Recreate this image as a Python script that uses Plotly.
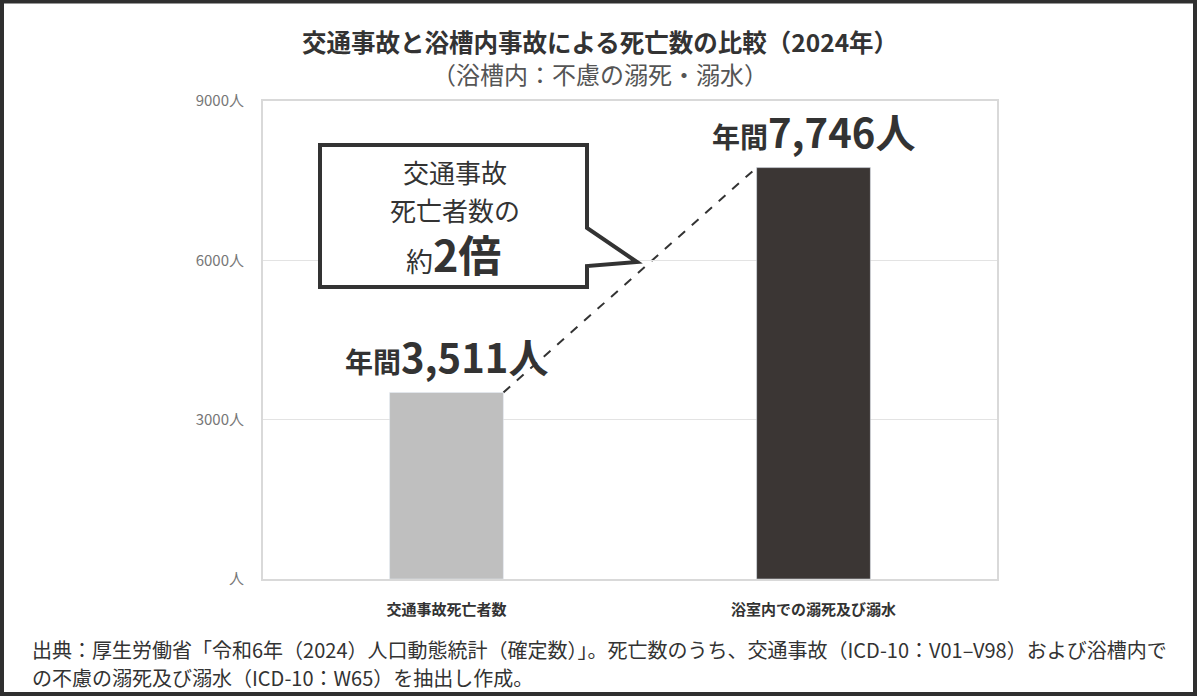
import plotly.graph_objects as go

categories = ["交通事故死亡者数", "浴室内での溺死及び溺水"]
values = [3511, 7746]
bar_colors = ["#bfbfbf", "#3b3634"]
tick_vals = [0, 3000, 6000, 9000]
tick_text = ["人", "3000人", "6000人", "9000人"]
bar_labels = ["3,511人", "7,746人"]

FONT = "Noto Sans CJK JP"
W, H = 1200, 699
L, R, T, B = 263, 997, 101, 579
BAR_W = 0.31


def px(x):
    return (x - L) / (R - L)


def py(y):
    return (B - y) / (B - T)


fig = go.Figure()
fig.add_trace(go.Bar(x=categories, y=values, marker_color=bar_colors,
                     width=BAR_W, hoverinfo="skip"))

annotations = []
# title
annotations.append(dict(xref="paper", yref="paper", x=px(600), y=py(41),
                        text="<b>交通事故と浴槽内事故による死亡数の比較（2024年）</b>",
                        showarrow=False, font=dict(size=24.5, color="#333333", family=FONT),
                        xanchor="center", yanchor="middle"))
annotations.append(dict(xref="paper", yref="paper", x=px(600), y=py(74),
                        text="（浴槽内：不慮の溺死・溺水）",
                        showarrow=False, font=dict(size=24, color="#555555", family=FONT),
                        xanchor="center", yanchor="middle"))
# bar labels
for cat, v, lab in zip(categories, values, bar_labels):
    annotations.append(dict(x=cat, y=v, xref="x", yref="y",
                            text="<b>年間<span style='font-size:40px'>" + lab + "</span></b>",
                            showarrow=False, yanchor="bottom", yshift=6,
                            font=dict(size=28, color="#333333", family=FONT)))
# callout text
annotations.append(dict(xref="paper", yref="paper", x=px(455), y=py(171),
                        text="交通事故", showarrow=False,
                        font=dict(size=26, color="#333333", family=FONT),
                        xanchor="center", yanchor="middle"))
annotations.append(dict(xref="paper", yref="paper", x=px(455), y=py(209),
                        text="死亡者数の", showarrow=False,
                        font=dict(size=26, color="#333333", family=FONT),
                        xanchor="center", yanchor="middle"))
annotations.append(dict(xref="paper", yref="paper", x=px(453), y=py(253),
                        text="約<b><span style='font-size:43px'>2倍</span></b>", showarrow=False,
                        font=dict(size=27, color="#333333", family=FONT),
                        xanchor="center", yanchor="middle"))
# footnote
annotations.append(dict(xref="paper", yref="paper", x=px(30), y=py(649),
                        text="出典：厚生労働省「令和6年（2024）人口動態統計（確定数）」。死亡数のうち、交通事故（ICD-10：V01–V98）および浴槽内で",
                        showarrow=False, font=dict(size=20, color="#333333", family=FONT),
                        xanchor="left", yanchor="middle"))
annotations.append(dict(xref="paper", yref="paper", x=px(30), y=py(677),
                        text="の不慮の溺死及び溺水（ICD-10：W65）を抽出し作成。",
                        showarrow=False, font=dict(size=20, color="#333333", family=FONT),
                        xanchor="left", yanchor="middle"))

# callout path
pts = [(320, 145), (587, 145), (587, 228), (637, 262), (587, 266), (587, 287), (320, 287)]
path = "M " + " L ".join(f"{px(a):.5f},{py(b):.5f}" for a, b in pts) + " Z"

shapes = [
    dict(type="path", xref="paper", yref="paper", path=path,
         line=dict(color="#333333", width=4), fillcolor="white", layer="above"),
    dict(type="line", xref="x", yref="y", x0=0 + BAR_W / 2, y0=values[0],
         x1=1 - BAR_W / 2, y1=values[1],
         line=dict(color="#333333", width=2, dash="dash"), layer="below"),
    dict(type="rect", xref="paper", yref="paper", x0=px(2), y0=py(1.5), x1=px(1195), y1=py(694),
         line=dict(color="#2f2f2f", width=4), fillcolor="rgba(0,0,0,0)", layer="above"),
]

fig.update_layout(
    width=W, height=H,
    margin=dict(l=L, r=W - R, t=T, b=H - B),
    paper_bgcolor="white", plot_bgcolor="white",
    showlegend=False,
    font=dict(family=FONT),
    annotations=annotations,
    shapes=shapes,
    xaxis=dict(showline=True, linecolor="#d9d9d9", linewidth=2, mirror=True,
               showgrid=False, ticks="", ticklabelstandoff=16,
               tickfont=dict(size=15, color="#333333", family=FONT, weight="bold")),
    yaxis=dict(range=[0, 9000], tickvals=tick_vals, ticktext=tick_text,
               showline=True, linecolor="#d9d9d9", linewidth=2, mirror=True,
               showgrid=True, gridcolor="#e3e3e3", gridwidth=1, zeroline=False,
               ticks="", ticklabelstandoff=14,
               tickfont=dict(size=15, color="#777777", family=FONT)),
)

fig.write_html("out.html")
